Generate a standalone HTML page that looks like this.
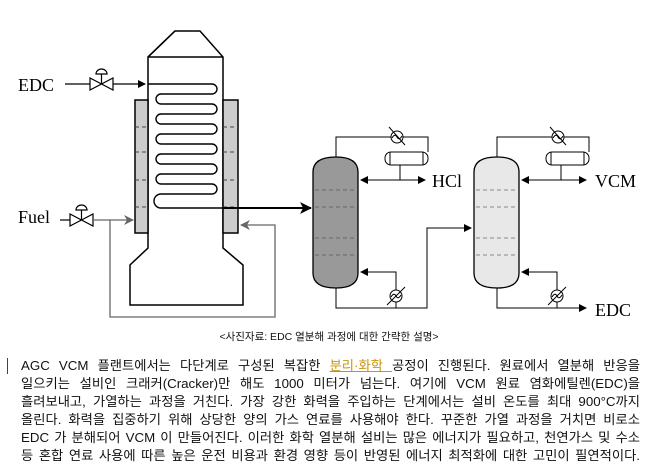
<!DOCTYPE html>
<html><head><meta charset="utf-8"><style>
html,body{margin:0;padding:0;background:#fff;width:658px;height:470px;overflow:hidden}
svg{position:absolute;left:0;top:0}
.cap{position:absolute;left:0;width:658px;top:329px;text-align:center;font:10.5px "Liberation Sans","Noto Sans CJK KR",sans-serif;color:#111}
.p{position:absolute;left:21px;top:357px;width:619px;font:13.3px/18px "Liberation Sans","Noto Sans CJK KR",sans-serif;color:#111;text-align:justify;text-align-last:justify}
.bar{position:absolute;left:7px;top:358px;width:1px;height:16px;background:#444}
.hl{color:#c8960a;text-decoration:underline;text-decoration-color:#c8960a}
</style></head><body>
<svg width="658" height="330" viewBox="0 0 658 330" font-family="Liberation Serif,serif">
<defs>
<marker id="ab" markerWidth="8" markerHeight="8" refX="7" refY="4" orient="auto" markerUnits="userSpaceOnUse"><path d="M0,0L8,4L0,8z" fill="#000"/></marker>
<marker id="ag" markerWidth="10" markerHeight="10" refX="9" refY="5" orient="auto" markerUnits="userSpaceOnUse"><path d="M0,0L10,5L0,10L3,5z" fill="#666"/></marker>
<marker id="abig" markerWidth="12" markerHeight="12" refX="11" refY="6" orient="auto" markerUnits="userSpaceOnUse"><path d="M0,0L12,6L0,12L3,6z" fill="#000"/></marker>
</defs>
<g fill="none" stroke="#000" stroke-width="1.5">
<path d="M175,31H200L223,57V248L243,265V305H130V265L148,248V57L148,57Z M148,57H223" fill="#fff"/>
<path d="M175,31L148,57"/>
<rect x="135" y="100" width="13" height="133" fill="#ccc"/>
<rect x="223" y="100" width="15" height="133" fill="#ccc"/>
</g>
<g stroke="#444" stroke-dasharray="4,3" stroke-width="1">
<path d="M135,127H148M135,152H148M135,180H148M135,207H148M223,127H238M223,152H238M223,180H238M223,207H238"/>
</g>
<path fill="none" stroke="#000" stroke-width="1.4" d="M148,84H212A5,5 0 0 1 212,94H161A5,5 0 0 0 161,104H212A5,5 0 0 1 212,114H161A5,5 0 0 0 161,124H212A5,5 0 0 1 212,134H161A5,5 0 0 0 161,144H212A5,5 0 0 1 212,154H161A5,5 0 0 0 161,164H212A5,5 0 0 1 212,174H161A5,5 0 0 0 161,184H212A5,5 0 0 1 212,194H161A5,5 0 0 0 161,208H310" />
<path d="M223,208H311" stroke="#000" stroke-width="2" marker-end="url(#abig)"/>
<text x="18" y="91" font-size="18">EDC</text>
<path d="M65,84H90M113,84H145" stroke="#000" stroke-width="1.2" marker-end="url(#ab)"/>
<path d="M90,78V90L113,78V90Z" fill="#fff" stroke="#000" stroke-width="1.2"/>
<path d="M101.5,84V74M96,74A5.5,5 0 0 1 107,74Z" fill="#fff" stroke="#000" stroke-width="1.2"/>
<text x="18" y="223" font-size="18">Fuel</text>
<path d="M60,220H70" stroke="#000" stroke-width="1.2"/>
<path d="M70,214V226L93,214V226Z" fill="#fff" stroke="#000" stroke-width="1.2"/>
<path d="M81.5,220V210M76,210A5.5,5 0 0 1 87,210Z" fill="#fff" stroke="#000" stroke-width="1.2"/>
<path d="M93,220H133" stroke="#666" stroke-width="1.3" fill="none" marker-end="url(#ag)"/>
<path d="M110,220V317H275V225H241" stroke="#666" stroke-width="1.3" fill="none" marker-end="url(#ag)"/>
<path d="M313,172Q313,157 336,157Q358,157 358,172V273Q358,288 336,288Q313,288 313,273Z" fill="#999" stroke="#000" stroke-width="1.3"/>
<g stroke="#666" stroke-dasharray="4,3"><path d="M315,190H356M315,207H356M315,238H356M315,255H356"/></g>
<g fill="none" stroke="#000" stroke-width="1">
<path d="M336,157V137H391M403,137H428V152"/>
<circle cx="397" cy="137" r="6" fill="#fff"/>
<path d="M392,138Q395,133 397,137T402,136"/>
<path d="M389,127L405,145"/>
<rect x="385" y="152" width="43" height="13" rx="6" fill="#fff"/>
<path d="M390,152V165M423,152V165"/>
<path d="M400,165V180"/>
<path d="M400,180H361" marker-end="url(#ab)"/>
<path d="M400,180H425" marker-end="url(#ab)"/>
<path d="M396,290V272H361" marker-end="url(#ab)"/>
<circle cx="396" cy="296" r="6" fill="#fff"/>
<path d="M391,297Q394,292 396,296T401,295"/>
<path d="M387,305L405,287"/>
<path d="M396,302V308"/>
<path d="M336,288V308H427V228H471" marker-end="url(#ab)"/>
</g>
<text x="432" y="187" font-size="18">HCl</text>
<path d="M474,172Q474,157 497,157Q519,157 519,172V273Q519,288 497,288Q474,288 474,273Z" fill="#e8e8e8" stroke="#000" stroke-width="1.3"/>
<g stroke="#888" stroke-dasharray="4,3"><path d="M476,190H517M476,207H517M476,238H517M476,255H517"/></g>
<g fill="none" stroke="#000" stroke-width="1">
<path d="M497,157V137H552M564,137H589V152"/>
<circle cx="558" cy="137" r="6" fill="#fff"/>
<path d="M553,138Q556,133 558,137T563,136"/>
<path d="M550,127L566,145"/>
<rect x="546" y="152" width="43" height="13" rx="6" fill="#fff"/>
<path d="M551,152V165M584,152V165"/>
<path d="M561,165V180"/>
<path d="M561,180H522" marker-end="url(#ab)"/>
<path d="M561,180H586" marker-end="url(#ab)"/>
<path d="M557,290V272H522" marker-end="url(#ab)"/>
<circle cx="557" cy="296" r="6" fill="#fff"/>
<path d="M552,297Q555,292 557,296T562,295"/>
<path d="M548,305L566,287"/>
<path d="M557,302V308"/>
<path d="M497,288V308H586" marker-end="url(#ab)"/>
</g>
<text x="595" y="187" font-size="18">VCM</text>
<text x="595" y="316" font-size="18">EDC</text>
</svg>
<div class="cap">&lt;사진자료: EDC 열분해 과정에 대한 간략한 설명&gt;</div>
<div class="bar"></div>
<div class="p">AGC VCM 플랜트에서는 다단계로 구성된 복잡한 <span class="hl">분리·화학 </span>공정이 진행된다. 원료에서 열분해 반응을<br>일으키는 설비인 크래커(Cracker)만 해도 1000 미터가 넘는다. 여기에 VCM 원료 염화에틸렌(EDC)을<br>흘려보내고, 가열하는 과정을 거친다. 가장 강한 화력을 주입하는 단계에서는 설비 온도를 최대 900°C까지<br>올린다. 화력을 집중하기 위해 상당한 양의 가스 연료를 사용해야 한다. 꾸준한 가열 과정을 거치면 비로소<br>EDC 가 분해되어 VCM 이 만들어진다. 이러한 화학 열분해 설비는 많은 에너지가 필요하고, 천연가스 및 수소<br>등 혼합 연료 사용에 따른 높은 운전 비용과 환경 영향 등이 반영된 에너지 최적화에 대한 고민이 필연적이다.</div>
</body></html>
